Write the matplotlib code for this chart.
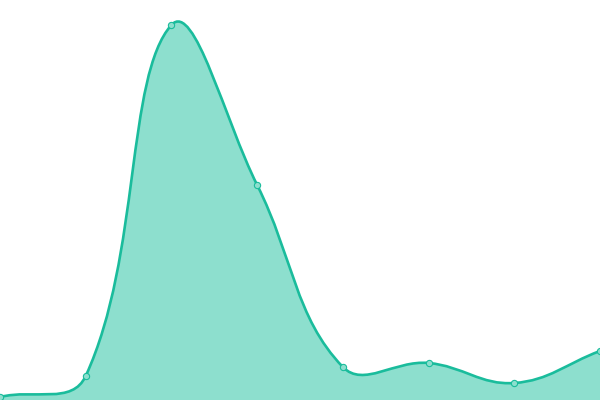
import numpy as np
import matplotlib
matplotlib.use("Agg")
import matplotlib.pyplot as plt
from matplotlib.path import Path
from matplotlib.patches import PathPatch

# data
labels = ["1", "2", "3", "4", "5", "6", "7", "8"]
values = [3, 24, 375, 215, 33, 37, 17, 49]

line_color = "#1abc9c"
fill_color = "#8ddfce"

W, H = 600, 400
fig = plt.figure(figsize=(6, 4), dpi=100)
ax = fig.add_axes([0, 0, 1, 1])
ax.set_xlim(0, len(values) - 1)
ax.set_ylim(0, 400)
ax.axis("off")

# spline control points (Chart.js style, tension 0.4) in pixel space
xs = np.arange(len(values)) * W / (len(values) - 1)
ys = np.array(values, dtype=float) * H / 400
pts = np.column_stack([xs, ys])
t = 0.4
ctrl_prev, ctrl_next = [], []
for i in range(len(pts)):
    p = pts[max(i - 1, 0)]
    c = pts[i]
    n = pts[min(i + 1, len(pts) - 1)]
    d01 = np.hypot(*(c - p))
    d12 = np.hypot(*(n - c))
    tot = d01 + d12 if d01 + d12 > 0 else 1
    fa = t * d01 / tot
    fb = t * d12 / tot
    ctrl_prev.append(c - fa * (n - p))
    ctrl_next.append(c + fb * (n - p))

def to_data(pt):
    return (pt[0] * (len(values) - 1) / W, pt[1] * 400 / H)

verts = [to_data(pts[0])]
codes = [Path.MOVETO]
for i in range(len(pts) - 1):
    verts += [to_data(ctrl_next[i]), to_data(ctrl_prev[i + 1]), to_data(pts[i + 1])]
    codes += [Path.CURVE4] * 3

line_path = Path(verts, codes)
fill_verts = verts + [(len(values) - 1, 0), (0, 0), verts[0]]
fill_codes = codes + [Path.LINETO, Path.LINETO, Path.CLOSEPOLY]
ax.add_patch(PathPatch(Path(fill_verts, fill_codes), facecolor=fill_color, edgecolor="none"))
ax.add_patch(PathPatch(line_path, facecolor="none", edgecolor=line_color, lw=1.9))

ax.plot(range(len(values)), values, "o", ms=4.5, mfc=fill_color, mec=line_color, mew=0.8, zorder=5)

fig.savefig("out.png", dpi=100)
